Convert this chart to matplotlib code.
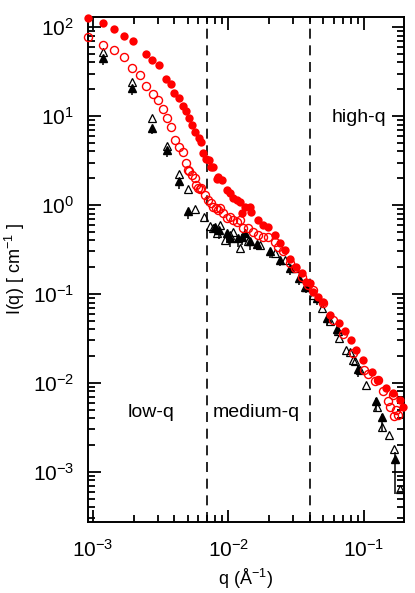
import matplotlib
matplotlib.use("Agg")
import matplotlib.pyplot as plt
import numpy as np
from matplotlib.ticker import LogLocator, LogFormatterSciNotation, NullFormatter

plt.rcParams['font.family'] = ['Liberation Sans', 'DejaVu Sans']
plt.rcParams['mathtext.fontset'] = 'custom'
plt.rcParams['mathtext.rm'] = 'Liberation Sans'

# red filled circles
q_red_fill = [9.2e-4, 1.19e-3, 1.43e-3, 1.69e-3, 1.97e-3, 2.46e-3, 2.73e-3, 3.07e-3, 3.46e-3, 3.76e-3,
              4.0e-3, 4.3e-3, 4.6e-3, 4.85e-3, 5.1e-3, 5.4e-3, 5.65e-3, 6.05e-3, 6.24e-3, 6.5e-3,
              6.8e-3, 7.2e-3, 7.4e-3, 7.7e-3, 8.2e-3, 8.4e-3, 8.9e-3, 9.7e-3, 1.03e-2, 1.09e-2,
              1.15e-2, 1.22e-2, 1.25e-2, 1.33e-2, 1.44e-2, 1.48e-2, 1.66e-2, 1.80e-2, 1.97e-2, 2.2e-2,
              2.4e-2, 2.6e-2, 2.83e-2, 3.18e-2, 3.47e-2, 3.77e-2, 4.0e-2, 4.24e-2, 4.6e-2, 5.0e-2,
              5.6e-2, 6.5e-2, 7.25e-2, 8.1e-2, 8.8e-2, 9.9e-2, 0.114, 0.127, 0.146, 0.164,
              0.184, 0.194]
I_red_fill = [126, 111, 95, 79, 70, 50, 42.5, 37, 26, 23,
              18, 16, 13, 11.4, 9.5, 7.9, 6.6, 5.7, 5.1, 3.8,
              3.3, 3.2, 2.7, 2.7, 1.96, 2.05, 1.91, 1.47, 1.35, 1.19,
              1.14, 1.09, 0.81, 0.96, 0.96, 0.84, 0.68, 0.60, 0.57, 0.46,
              0.37, 0.31, 0.25, 0.20, 0.17, 0.137, 0.132, 0.106, 0.093, 0.082,
              0.058, 0.047, 0.038, 0.030, 0.0235, 0.018, 0.0134, 0.0107, 0.0087, 0.0076,
              0.0065, 0.0054]

# red open circles
q_red_open = [9.2e-4, 1.18e-3, 1.44e-3, 1.69e-3, 1.96e-3, 2.22e-3, 2.46e-3, 2.76e-3, 3.0e-3, 3.27e-3,
              3.5e-3, 3.76e-3, 4.02e-3, 4.33e-3, 4.59e-3, 4.84e-3, 5.05e-3, 5.15e-3, 5.4e-3, 5.66e-3,
              5.8e-3, 6.0e-3, 6.15e-3, 6.3e-3, 6.7e-3, 7.1e-3, 7.5e-3, 7.7e-3, 8.1e-3, 8.4e-3,
              8.7e-3, 9.15e-3, 9.7e-3, 1.03e-2, 1.09e-2, 1.15e-2, 1.22e-2, 1.29e-2, 1.40e-2, 1.52e-2,
              1.66e-2, 1.80e-2, 1.97e-2, 2.2e-2, 2.32e-2, 2.53e-2, 2.83e-2, 3.1e-2, 3.47e-2, 3.89e-2,
              4.24e-2, 5.0e-2, 5.9e-2, 7.0e-2, 8.3e-2, 0.101, 0.108, 0.12, 0.128, 0.138,
              0.15, 0.155, 0.164, 0.167, 0.174, 0.178]
I_red_open = [78, 63, 55, 45.6, 35, 29, 22, 17.5, 15.1, 11.9,
              9.4, 7.5, 5.4, 4.45, 3.9, 3.0, 2.47, 2.43, 2.17, 1.99,
              1.68, 1.54, 1.50, 1.54, 1.30, 1.14, 1.04, 0.96, 0.92, 0.88,
              0.92, 0.81, 0.71, 0.74, 0.68, 0.65, 0.68, 0.55, 0.55, 0.50,
              0.46, 0.44, 0.44, 0.387, 0.34, 0.30, 0.22, 0.194, 0.156, 0.126,
              0.111, 0.079, 0.051, 0.035, 0.0216, 0.014, 0.0125, 0.0104, 0.0107, 0.0080,
              0.0062, 0.0054, 0.0073, 0.0042, 0.0050, 0.0044]

# black open triangles
q_blk_open = [1.18e-3, 1.96e-3, 2.74e-3, 3.5e-3, 4.3e-3, 5.06e-3, 5.7e-3, 6.6e-3, 7.3e-3, 7.7e-3,
              8.2e-3, 8.7e-3, 9.4e-3, 1.03e-2, 1.08e-2, 1.22e-2, 1.40e-2, 1.7e-2, 2.2e-2, 2.6e-2,
              3.1e-2, 3.65e-2, 4.2e-2, 4.9e-2, 5.6e-2, 6.4e-2, 6.6e-2, 7.4e-2, 7.9e-2, 8.3e-2,
              8.6e-2, 9.3e-2, 0.104, 0.124, 0.135, 0.153, 0.167, 0.184]
I_blk_open = [53, 24, 9.6, 4.6, 2.23, 1.51, 0.90, 0.73, 0.58, 0.55,
              0.49, 0.60, 0.40, 0.46, 0.50, 0.33, 0.39, 0.355, 0.29, 0.24,
              0.194, 0.12, 0.097, 0.069, 0.049, 0.038, 0.032, 0.0235, 0.0225, 0.018,
              0.0174, 0.014, 0.0095, 0.0053, 0.0032, 0.0026, 0.0018, 0.00064]

# black filled triangles with error bars (relative error)
q_blk_fill = [1.18e-3, 1.96e-3, 2.74e-3, 3.5e-3, 4.3e-3, 5.0e-3, 7.95e-3, 8.56e-3, 9.7e-3, 1.03e-2,
              1.18e-2, 1.25e-2, 1.33e-2, 1.44e-2, 1.63e-2, 2.03e-2, 2.4e-2, 2.83e-2, 3.3e-2, 3.77e-2,
              4.5e-2, 5.3e-2, 6.3e-2, 9.1e-2, 0.123, 0.137, 0.17]
I_blk_fill = [44.5, 20.5, 7.3, 4.1, 1.87, 0.86, 0.57, 0.52, 0.48, 0.42,
              0.42, 0.44, 0.48, 0.39, 0.365, 0.30, 0.24, 0.194, 0.15, 0.12,
              0.089, 0.053, 0.040, 0.0145, 0.0063, 0.0041, 0.0014]
err_blk_fill = [0.15, 0.15, 0.15, 0.15, 0.2, 0.2, 0.2, 0.2, 0.2, 0.2,
                0.2, 0.2, 0.2, 0.2, 0.15, 0.15, 0.15, 0.15, 0.15, 0.15,
                0.15, 0.15, 0.15, 0.2, 0.25, 0.3, 0.6]

region_bounds = [0.007, 0.04]

fig = plt.figure(figsize=(4.15, 5.93), dpi=100)
ax = fig.add_axes([0.212, 0.120, 0.761, 0.851])

ax.plot(q_red_fill, I_red_fill, 'o', color='red', markersize=6, markeredgewidth=0, clip_on=False, zorder=4)
ax.plot(q_red_open, I_red_open, 'o', markerfacecolor='none', markeredgecolor='red', markersize=5.8,
        markeredgewidth=1.0, clip_on=False, zorder=3)
ax.plot(q_blk_open, I_blk_open, '^', markerfacecolor='none', markeredgecolor='black', markersize=6,
        markeredgewidth=0.9, zorder=2)
yerr = np.array(err_blk_fill) * np.array(I_blk_fill)
ax.errorbar(q_blk_fill, I_blk_fill, yerr=[yerr, yerr * 0.3], fmt='^', color='black', markersize=6,
            elinewidth=1.1, capsize=0, zorder=2)

for b in region_bounds:
    ax.axvline(b, color='black', linestyle=(0, (6, 4)), linewidth=1.2)

ax.text(1.8e-3, 4.6e-3, 'low-q', fontsize=14, va='center')
ax.text(7.7e-3, 4.6e-3, 'medium-q', fontsize=14, va='center')
ax.text(0.058, 9.5, 'high-q', fontsize=14, va='center')

ax.set_xscale('log')
ax.set_yscale('log')
ax.set_xlim(9.2e-4, 0.197)
ax.set_ylim(2.74e-4, 129)

ax.xaxis.set_major_locator(LogLocator(base=10, numticks=10))
ax.yaxis.set_major_locator(LogLocator(base=10, numticks=10))
ax.xaxis.set_minor_locator(LogLocator(base=10, subs=np.arange(2, 10), numticks=10))
ax.yaxis.set_minor_locator(LogLocator(base=10, subs=np.arange(2, 10), numticks=10))
ax.xaxis.set_minor_formatter(NullFormatter())
ax.yaxis.set_minor_formatter(NullFormatter())
ax.xaxis.set_major_formatter(LogFormatterSciNotation())
ax.yaxis.set_major_formatter(LogFormatterSciNotation())

ax.tick_params(which='both', direction='in', top=True, right=True, width=1.3, labelsize=15)
ax.tick_params(axis='x', which='major', length=9, pad=12)
ax.tick_params(axis='y', which='major', length=9, pad=10)
ax.tick_params(which='minor', length=5)
for s in ax.spines.values():
    s.set_linewidth(1.4)

ax.set_xlabel('q (Å$^{-1}$)', fontsize=13, labelpad=5)
ax.set_ylabel('I(q) [ cm$^{-1}$ ]', fontsize=13, labelpad=4)

fig.savefig('out.png', dpi=100)
